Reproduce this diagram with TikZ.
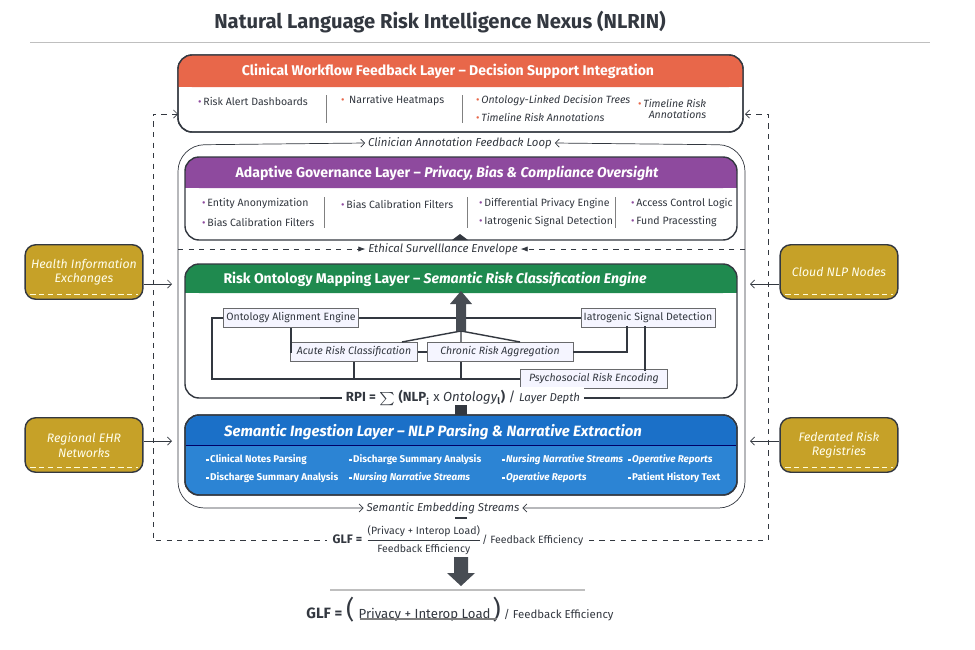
\documentclass[tikz,border=0pt]{standalone}
\usepackage{fontspec}
\setmainfont{Fira Sans}
\usepackage{amsmath}
\usetikzlibrary{arrows.meta,calc,positioning}
\tikzset{>=Straight Barb}
\definecolor{hdorange}{HTML}{E8674A}
\definecolor{hdpurple}{HTML}{8E4A9E}
\definecolor{hdgreen}{HTML}{1F8A4F}
\definecolor{hdblue}{HTML}{1B70C8}
\definecolor{bdblue}{HTML}{2C84D4}
\definecolor{gold}{HTML}{C6A128}
\definecolor{ink}{HTML}{333840}
\definecolor{dotc}{HTML}{8E4A9E}
\tikzset{
  hdr/.style={text=white,font=\fontsize{8}{9}\selectfont\bfseries},
  item/.style={anchor=west,font=\fontsize{6}{7}\selectfont,text=ink},
  bitem/.style={anchor=west,font=\fontsize{5.6}{7}\selectfont\bfseries,text=white},
  inbox/.style={draw=gray!70!ink,fill=blue!4,font=\fontsize{6}{7}\selectfont,text=ink,minimum height=11pt,inner sep=1.5pt},
  srcbox/.style={draw=ink,thick,fill=gold,rounded corners=6pt,minimum width=67pt,minimum height=31pt,text=white!92!yellow,font=\fontsize{7}{8.5}\selectfont\itshape,align=center},
  loop/.style={font=\fontsize{6.5}{8}\selectfont\itshape,text=ink,fill=white,inner sep=1.5pt}
}
\newcommand{\bl}[1][dotc]{\textcolor{#1}{\textbullet}\,}
\newcommand{\sq}{\rule[0.3ex]{0.45ex}{0.45ex}\,}
\begin{document}
\begin{tikzpicture}[x=0.02cm,y=-0.02cm]
  \useasboundingbox[fill=white] (0,0) rectangle (975,650);
  \node (title) at (440,22) {\fontsize{11.5}{13}\selectfont\bfseries\color{ink}Natural Language Risk Intelligence Nexus (NLRIN)};
  \draw[gray!50] (30,42) -- (930,42);

  % clinical workflow layer
  \draw[ink,thick,rounded corners=8pt,fill=white] (178,55) rectangle (743,132);
  \fill[hdorange,rounded corners=8pt] (178,55) rectangle (743,87);
  \fill[hdorange] (178,75) rectangle (743,87);
  \draw[ink,thick,rounded corners=8pt] (178,55) rectangle (743,132);
  \node[hdr] (cw) at (448,71) {Clinical Workflow Feedback Layer -- Decision Support Integration};
  \node[item] at (192,101) {\bl Risk Alert Dashboards};
  \node[item] at (335,101) {\bl[hdorange] Narrative Heatmaps};
  \node[item] at (470,101) {\bl[hdorange]\itshape Ontology-Linked Decision Trees};
  \node[item] at (470,117) {\bl[hdorange]\itshape Timeline Risk Annotations};
  \node[item,align=left] at (632,109) {\bl[hdorange]\itshape Timeline Risk\\[-1pt]\hspace*{6pt}\itshape Annotations};
  \draw[gray] (326,95) -- (326,123) (462,95) -- (462,123);

  % loop labels
  \node[loop] (clin) at (460,143) {Clinician Annotation Feedback Loop};
  \node[loop] (sem) at (443,508) {Semantic Embedding Streams};
  \draw[ink,<->,rounded corners=15pt] (sem.west) -- (178,508) -- (178,145) -- (clin.west);
  \draw[ink,<->,rounded corners=15pt] (sem.east) -- (745,508) -- (745,145) -- (clin.east);

  % governance layer
  \fill[hdpurple,rounded corners=8pt] (185,157) rectangle (737,188);
  \fill[hdpurple] (185,175) rectangle (737,188);
  \draw[ink,thick,rounded corners=8pt] (185,157) rectangle (737,240);
  \node[hdr] (gov) at (447,173) {Adaptive Governance Layer -- \itshape Privacy, Bias \& Compliance Oversight};
  \node[item] at (196,204) {\bl Entity Anonymization};
  \node[item] at (196,222) {\bl Bias Calibration Filters};
  \node[item] at (335,204) {\bl Bias Calibration Filters};
  \node[item] at (473,204) {\bl Differential Privacy Engine};
  \node[item] at (473,222) {\bl Iatrogenic Signal Detection};
  \node[item] at (625,204) {\bl Access Control Logic};
  \node[item] at (625,222) {\bl Fund Pracessting};
  \draw[gray] (324,197) -- (324,228) (467,197) -- (467,228) (615,197) -- (615,228);
  \fill[ink] (452,240) -- (460,234) -- (468,240) -- cycle;

  % ethical envelope
  \node[loop] (eth) at (443,249) {Ethical Survelllance Envelope};
  \draw[ink,dashed,-{Latex[length=4pt]}] (178,249) -- (eth.west);
  \draw[ink,dashed,-{Latex[length=4pt]}] (745,249) -- (eth.east);

  % ontology layer
  \fill[hdgreen,rounded corners=8pt] (185,264) rectangle (737,293);
  \fill[hdgreen] (185,280) rectangle (737,293);
  \draw[ink,thick,rounded corners=8pt] (185,264) rectangle (737,398);
  \node[hdr] (ont) at (435,279) {Risk Ontology Mapping Layer -- \itshape Semantic Risk Classification Engine};
  \node[inbox,minimum width=72pt] (oae) at (291,318) {Ontology Alignment Engine};
  \node[inbox,minimum width=72pt] (isd) at (648,318) {Iatrogenic Signal Detection};
  \node[inbox,minimum width=72pt] (arc) at (354,352) {\itshape Acute Risk Classification};
  \node[inbox,minimum width=83pt] (cra) at (500,352) {\itshape Chronic Risk Aggregation};
  \node[inbox,minimum width=84pt] (prc) at (594,379) {\itshape Psychosocial Risk Encoding};
  \coordinate (hub) at (461,331);
  \draw[ink,thick] (oae) -- (isd);
  \draw[ink,thick] (oae.south) |- (arc.west);
  \draw[ink,thick] (arc) -- (cra);
  \draw[ink,thick] (cra.east) -| (627,326);
  \draw[ink,thick] (645,326) -- (645,371);
  \draw[ink,thick] (oae.west) -- (212,318) |- (prc.west);
  \draw[ink,thick] (arc.south) -- (arc.south|-prc.west) (hub|-cra.south) -- (hub|-prc.west);
  \draw[ink,thick] ($(arc.north)+(48,0)$) -- (hub) -- ($(cra.north)+(20,0)$) (hub) -- (hub|-cra.north);
  \fill[ink!90] (456,331) -- (456,304) -- (450,304) -- (461,291) -- (472,304) -- (466,304) -- (466,331) -- cycle;
  \node[fill=white,inner sep=2pt,font=\fontsize{7.5}{9}\selectfont\color{ink}] (rpi) at (463,398)
    {\textbf{RPI =} $\boldsymbol{\sum}$ \textbf{(NLP$_\mathbf{i}$} x \textit{Ontology$_\mathbf{l}$}\textbf{)} / {\fontsize{6.5}{8}\selectfont\itshape Layer Depth}};
  \draw[ink,thick] (320,398) -- (rpi.west) (rpi.east) -- (620,398);
  \fill[ink] (455,405) rectangle (467,415);

  % ingestion layer
  \draw[ink,thick,rounded corners=8pt,fill=bdblue] (185,415) rectangle (737,495);
  \fill[hdblue,rounded corners=8pt] (186,416) rectangle (736,445);
  \fill[hdblue] (186,432) rectangle (736,445);
  \draw[blue!40!black] (186,445) -- (736,445);
  \draw[ink,thick,rounded corners=8pt] (185,415) rectangle (737,495);
  \node[hdr,font=\fontsize{8.5}{10}\selectfont\bfseries\itshape] (ing) at (433,432) {Semantic Ingestion Layer -- NLP Parsing \& Narrative Extraction};
  \node[bitem] at (200,460) {\sq Clinical Notes Parsing};
  \node[bitem] at (200,478) {\sq Discharge Summary Analysis};
  \node[bitem] at (343,460) {\sq Discharge Summary Analysis};
  \node[bitem] at (343,478) {\sq\itshape Nursing Narrative Streams};
  \node[bitem] at (496,460) {\sq\itshape Nursing Narrative Streams};
  \node[bitem] at (496,478) {\sq\itshape Operative Reports};
  \node[bitem] at (622,460) {\sq\itshape Operative Reports};
  \node[bitem] at (622,478) {\sq Patient History Text};
  \draw[ink,thick] (455,518) -- (467,518);

  % source boxes
  \node[srcbox] (hie) at (84,272) {Health Information\\Exchanges};
  \node[srcbox] (ehr) at (84,445) {Regional EHR\\Networks};
  \node[srcbox] (cld) at (839,272) {Cloud NLP Nodes};
  \node[srcbox] (frr) at (839,445) {Federated Risk\\Registries};
  \foreach \s in {hie,ehr,cld,frr}
    \draw[white!85!yellow,densely dashed] ($(\s.south west)+(6,-6)$) -- ($(\s.south east)+(-6,-6)$);
  \draw[ink,->] (hie.east|-0,284) -- (172,284);
  \draw[ink,->] (ehr.east|-0,441) -- (172,441);
  \draw[ink,->] (cld.west|-0,284) -- (750,284);
  \draw[ink,->] (frr.west|-0,441) -- (750,441);

  % governance feedback formula
  \node[font=\fontsize{7}{8}\selectfont\color{ink}] (glf) at (458,540)
    {\textbf{GLF =} $\dfrac{\text{\fontsize{6}{7}\selectfont(Privacy + Interop Load)}}{\text{\fontsize{6}{7}\selectfont Feedback Efficiency}}$\fontsize{6}{7}\selectfont/ Feedback Efficiency};
  \draw[ink,dashed,<-] (178,114) -- (153,114) -- (153,540) -- (glf.west);
  \draw[ink,dashed,<-] (745,114) -- (768,114) -- (768,540) -- (glf.east);
  \fill[ink!90] (454,557) -- (454,573) -- (447,573) -- (461,586) -- (475,573) -- (468,573) -- (468,557) -- cycle;
  \draw[gray!50,thick] (330,590) -- (585,590);
  \node[font=\fontsize{8.5}{10}\selectfont\color{ink}] (glf2) at (460,610)
    {\textbf{GLF =} \Large(\,\normalsize\fontsize{7.5}{9}\selectfont Privacy + Interop Load\,\Large)\fontsize{6.5}{8}\selectfont\ / Feedback Efficiency};
  \draw[gray,thick] (360,619) -- (497,619);
\end{tikzpicture}
\end{document}
